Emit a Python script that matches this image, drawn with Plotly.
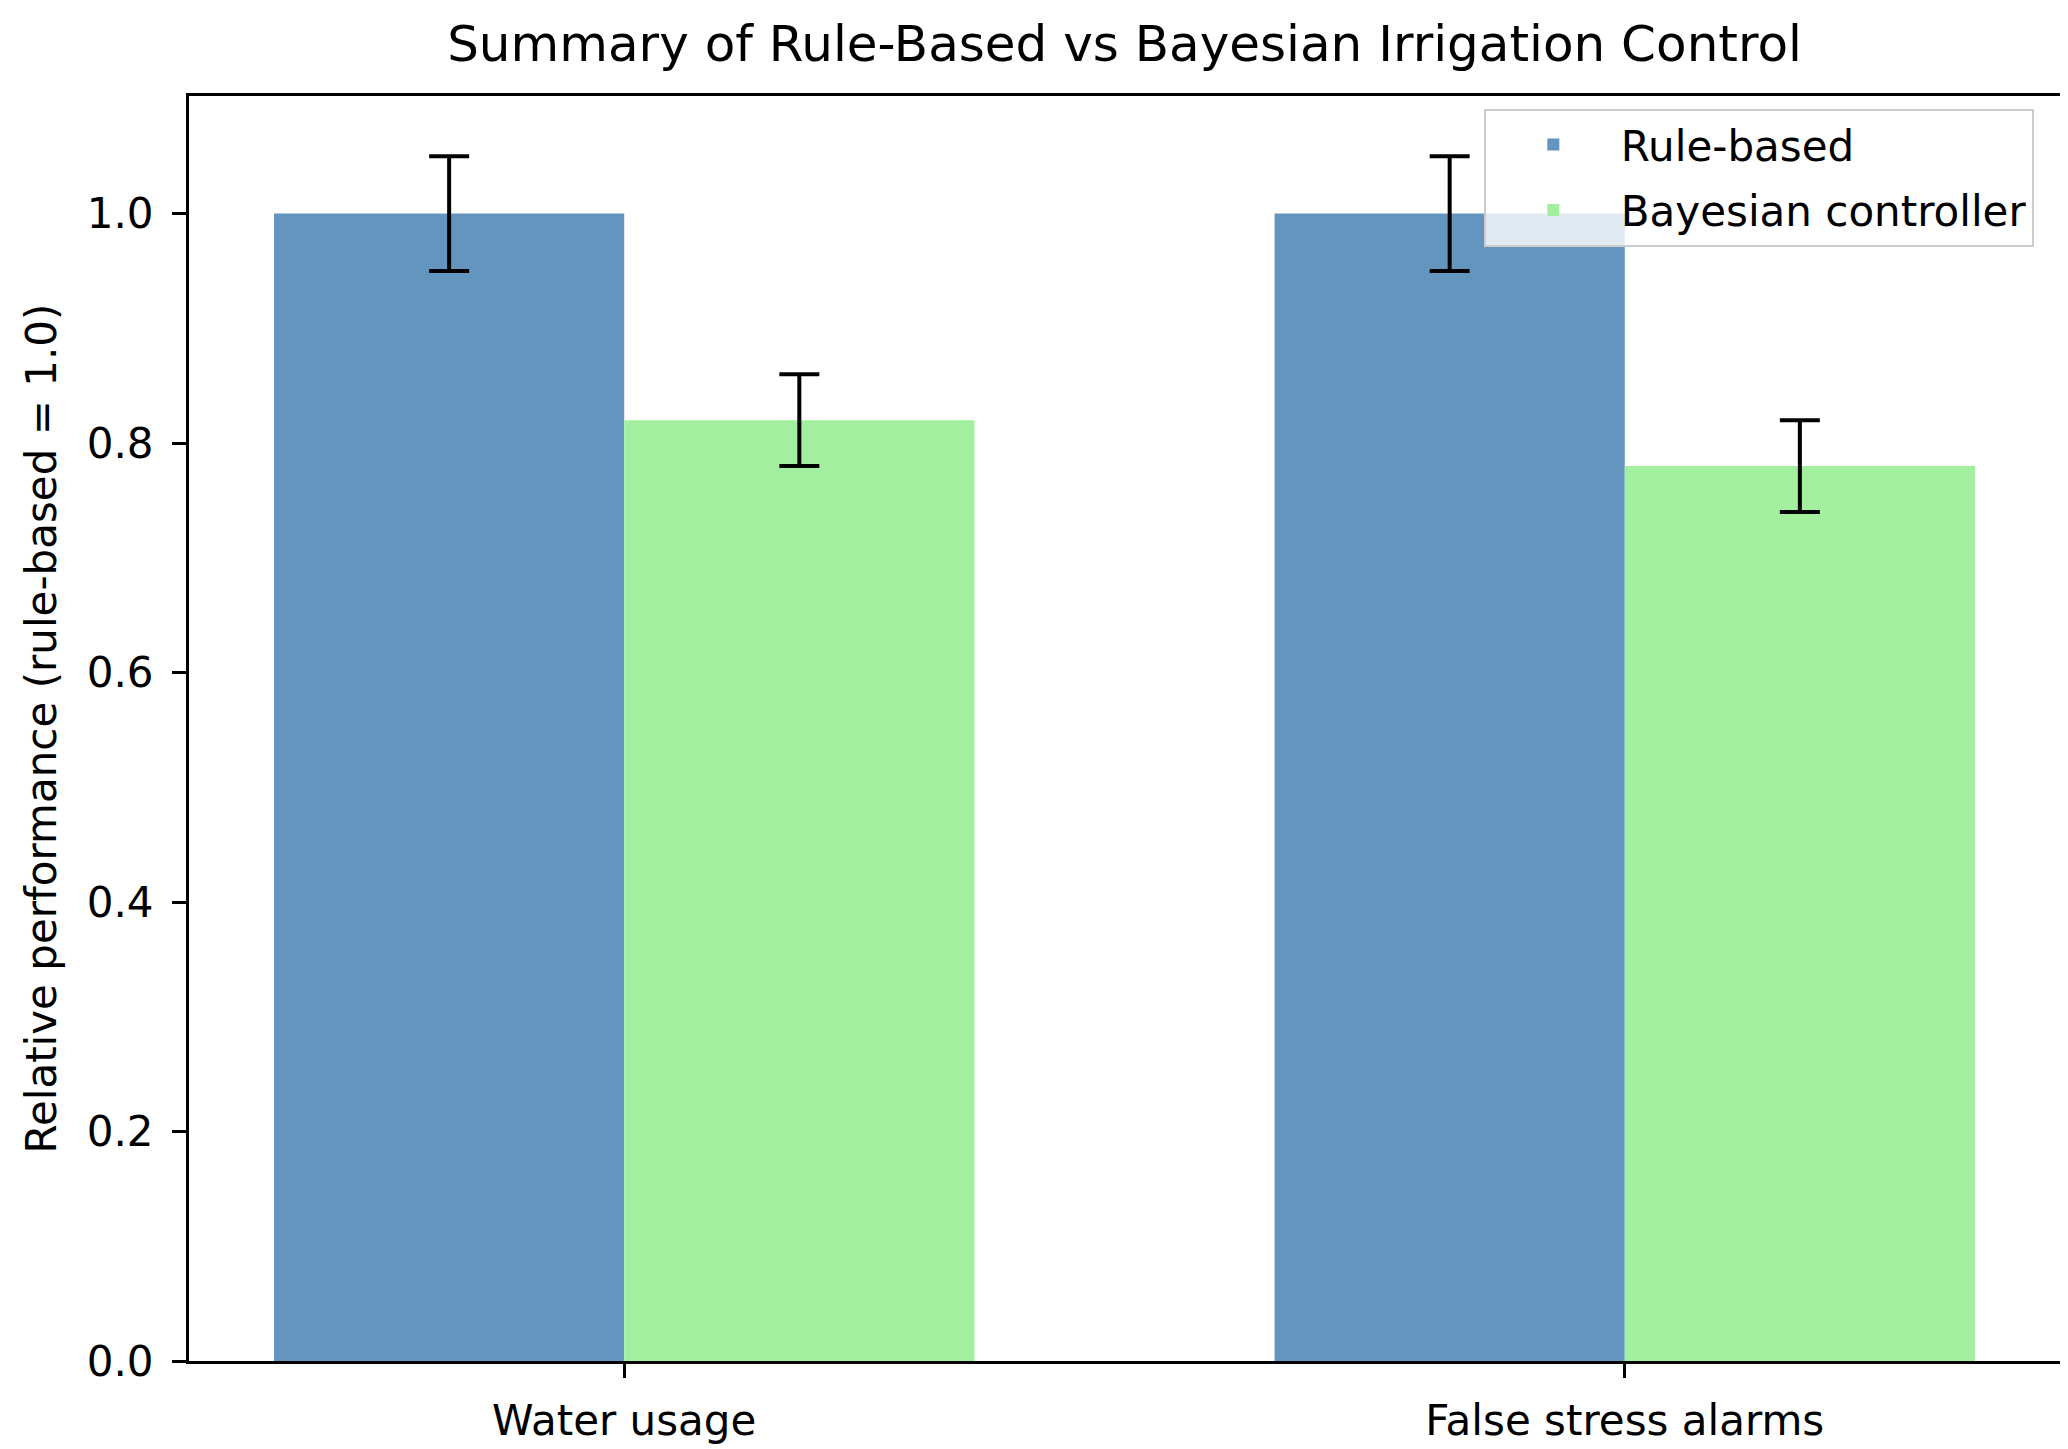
import plotly.graph_objects as go

categories = ["Water usage", "False stress alarms"]
rule_based = [1.0, 1.0]
rule_err = [0.05, 0.05]
bayesian = [0.82, 0.78]
bayes_err = [0.04, 0.04]
y_ticks = [0.0, 0.2, 0.4, 0.6, 0.8, 1.0]

FONT = "DejaVu Sans"
FS = 42

fig = go.Figure()
fig.add_trace(go.Bar(
    x=categories, y=rule_based, name="Rule-based",
    marker=dict(color="#6495BF", line=dict(width=0)),
    error_y=dict(type="data", array=rule_err, color="black", thickness=4, width=20),
    legendgroup="a",
))
fig.add_trace(go.Bar(
    x=categories, y=bayesian, name="Bayesian controller",
    marker=dict(color="#A2EF9F", line=dict(width=0)),
    error_y=dict(type="data", array=bayes_err, color="black", thickness=4, width=20),
    legendgroup="b",
))

fig.update_layout(
    width=2068, height=1449,
    margin=dict(l=181, r=16, t=88, b=80),
    paper_bgcolor="white", plot_bgcolor="white",
    font=dict(family=FONT, size=FS, color="black"),
    barmode="group", bargap=0.3, bargroupgap=0,
    title=dict(text="Summary of Rule-Based vs Bayesian Irrigation Control",
               x=0.5, xref="paper", xanchor="center",
               y=1 - 35 / 1449, yref="container", yanchor="middle",
               font=dict(family=FONT, size=50, color="black")),
    legend=dict(x=0.986, y=0.99, xanchor="right", yanchor="top",
                bgcolor="rgba(255,255,255,0.8)", bordercolor="#CCCCCC", borderwidth=2,
                font=dict(family=FONT, size=FS, color="black"),
                itemwidth=125, tracegroupgap=8, traceorder="grouped"),
    showlegend=True,
)
fig.update_xaxes(
    range=[-0.435, 1.435], showline=True, mirror=True, linecolor="black", linewidth=3,
    ticks="outside", ticklen=14, tickwidth=3, tickcolor="black", showgrid=False,
    zeroline=False, ticklabelstandoff=7,
)
fig.update_yaxes(
    range=[0, 1.1025], tickvals=y_ticks, tickformat=".1f",
    showline=True, mirror=True, linecolor="black", linewidth=3,
    ticks="outside", ticklen=14, tickwidth=3, tickcolor="black", showgrid=False,
    zeroline=False, ticklabelstandoff=10,
    title=dict(text="Relative performance (rule-based = 1.0)", standoff=18,
               font=dict(family=FONT, size=FS, color="black")),
)

fig.write_html("out.html")
